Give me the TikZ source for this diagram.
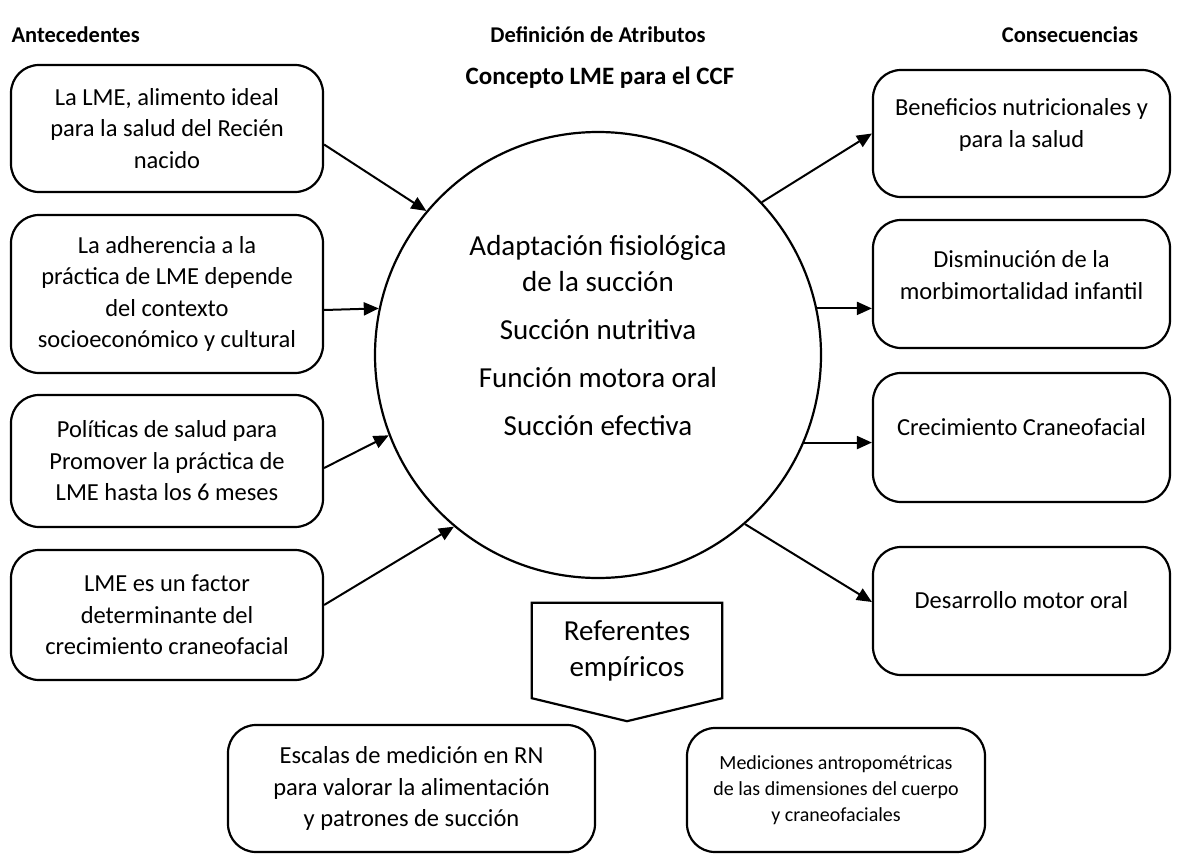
\documentclass[tikz,border=0pt]{standalone}
\usepackage{fontspec}
\setmainfont{Carlito}
\usetikzlibrary{arrows.meta}

\begin{document}
\begin{tikzpicture}[x=1pt, y=-1pt,
        box/.style={draw, line width=2.2pt, rounded corners=28pt, align=center, inner sep=0pt, font=\fontsize{24.5}{31.5}\selectfont},
        txt/.style={align=center, font=\fontsize{24.5}{31.5}\selectfont},
        big/.style={align=center, font=\fontsize{29}{36}\selectfont},
        head/.style={font=\bfseries\fontsize{22.5}{27}\selectfont},
        flow/.style={-{Triangle[length=15pt,width=13pt]}, line width=2pt}]
    \useasboundingbox (0,0) rectangle (1180,867);
    \node[head, anchor=west] (ante) at (8,35) {Antecedentes};
    \node[head] (defi) at (598,35) {Definición de Atributos};
    \node[head] (cons) at (1070,35) {Consecuencias};
    \node[head, font=\bfseries\fontsize{25}{30}\selectfont] (conc) at (600,78) {Concepto LME para el CCF};

    \node[box, minimum width=312pt, minimum height=127pt] (ideal) at (167,128.5) {La LME, alimento ideal\\para la salud del Recién\\nacido};
    \node[box, minimum width=312pt, minimum height=158pt] (adher) at (167,294) {La adherencia a la\\práctica de LME depende\\del contexto\\socioeconómico y cultural};
    \node[box, minimum width=312pt, minimum height=132pt] (polit) at (167,461) {Políticas de salud para\\Promover la práctica de\\LME hasta los 6 meses};
    \node[box, minimum width=312pt, minimum height=130pt] (factor) at (167,615) {LME es un factor\\determinante del\\crecimiento craneofacial};

    \node[draw, circle, line width=2.2pt, minimum size=446pt, inner sep=0pt] (attr) at (598,355) {};
    \node[big] (attrT) at (598,336) {Adaptación fisiológica\\de la succión\\[12pt]Succión nutritiva\\[12pt]Función motora oral\\[12pt]Succión efectiva};

    \node[box, minimum width=297pt, minimum height=127pt] (benef) at (1021.5,133.5) {};
    \node[txt] (benefT) at (1021.5,125) {Beneficios nutricionales y\\para la salud};
    \node[box, minimum width=297pt, minimum height=128pt] (morbi) at (1021.5,284) {};
    \node[txt] (morbiT) at (1021.5,275) {Disminución de la\\morbimortalidad infantil};
    \node[box, minimum width=297pt, minimum height=129pt] (crec) at (1021.5,437.5) {};
    \node[txt] (crecT) at (1021.5,427) {Crecimiento Craneofacial};
    \node[box, minimum width=297pt, minimum height=128pt] (motor) at (1021.5,611) {};
    \node[txt] (motorT) at (1021.5,600) {Desarrollo motor oral};

    \node[big, minimum width=190pt, minimum height=95pt, inner sep=0pt] (ref) at (627,650.5) {Referentes\\empíricos};
    \draw[line width=2.2pt] (ref.north west) -- (ref.north east) -- (ref.south east) -- ([yshift=-23pt]ref.south) -- (ref.south west) -- cycle;

    \node[box, minimum width=367pt, minimum height=127pt] (escal) at (411.5,788.5) {Escalas de medición en RN\\para valorar la alimentación\\y patrones de succión};
    \node[box, minimum width=298pt, minimum height=124pt, font=\fontsize{20}{26}\selectfont] (medic) at (836,790) {Mediciones antropométricas\\de las dimensiones del cuerpo\\y craneofaciales};

    \draw[flow] ([yshift=-16pt]ideal.east) -- (attr.140);
    \draw[flow] ([yshift=-16pt]adher.east) -- (attr.168);
    \draw[flow] ([yshift=-7pt]polit.east) -- (attr.201);
    \draw[flow] ([yshift=10pt]factor.east) -- (attr.230);
    \draw[flow] (attr.43) -- (benef.west);
    \draw[flow] (attr.12) -- (attr.12 -| morbi.west);
    \draw[flow] (attr.-23) -- (attr.-23 -| crec.west);
    \draw[flow] (attr.-49) -- ([yshift=9pt]motor.west);
\end{tikzpicture}
\end{document}
